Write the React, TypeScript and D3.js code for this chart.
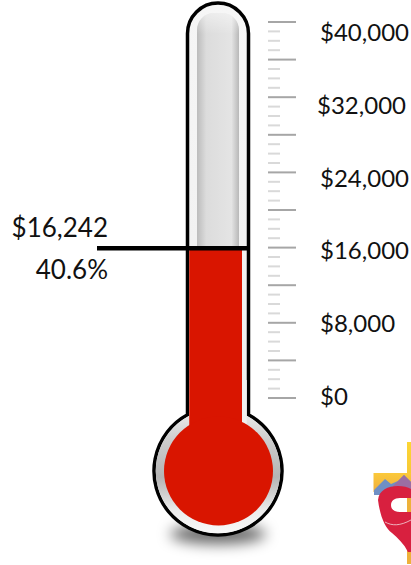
import { useMemo } from 'react'
import { scaleLinear, range, path as d3path } from 'd3'

const axisTicks = range(0, 40001, 1000)
const labelValues = [0, 8000, 16000, 24000, 32000, 40000]
const labelShift = [0, 0, 0, 0, -3, 0]
const raised = 16242
const percent = '40.6%'
const raisedText = '$16,242'

const font = 'Lato, Carlito, sans-serif'
const red = '#d91500'

const Logo = () => (
  <g>
    <rect x={407} y={442} width={6} height={122} fill="url(#cross)" />
    <rect x={373.5} y={473} width={38} height={19} fill="url(#arm)" />
    <path d="M374 490 L385 479 L391 484 L398 481 L404 475 L411 482 L411 495 L374 495 Z" fill="#6f8fc4" />
    <path d="M393 486 L398 481 L404 475 L411 482 L411 495 L393 495 Z" fill="#9b6ea3" />
    <path d="M378 500 C379 490 388 486 398 486 C403 486 408 487 411 489 L411 498 L400 498 C394 498 391 501 391 505 C391 510 395 512 400 512 L411 512 L411 556 L408 552 C404 544 398 538 392 533 C385 528 380 516 378 500 Z" fill="#d8203f" />
    <rect x={407} y={498} width={4} height={14} fill="#eeb13a" />
    <path d="M385 522 C392 526 400 526 411 520" fill="none" stroke="#f3d6dc" strokeWidth={0.8} />
    <rect x={407} y={552} width={4} height={12} fill="#eeb13a" />
  </g>
)

const App = () => {
  const y = scaleLinear().domain([0, 40000]).range([398, 22])
  const labelY = scaleLinear().domain([0, 40000]).range([396, 32])
  // the mercury sits a little under the printed scale in the picture
  const levelY = scaleLinear().domain([0, 40000]).range([401, 25])
  const level = levelY(raised)

  const tube = useMemo(() => {
    const p = d3path()
    const cx = 218, cy = 471, r = 64, hw = 30.5, top = 3, capR = 30.5
    const a = Math.asin(hw / r)
    p.moveTo(cx - hw, cy - r * Math.cos(a))
    p.lineTo(cx - hw, top + capR)
    p.arcTo(cx - hw, top, cx, top, capR)
    p.arcTo(cx + hw, top, cx + hw, top + capR, capR)
    p.lineTo(cx + hw, cy - r * Math.cos(a))
    p.arc(cx, cy, r, -Math.PI / 2 + a, -Math.PI / 2 - a + Math.PI * 2)
    p.closePath()
    return p.toString()
  }, [])

  const glass = useMemo(() => {
    const p = d3path()
    const x0 = 197, x1 = 239, top = 13, r = 17
    p.moveTo(x0, level)
    p.lineTo(x0, top + r)
    p.arcTo(x0, top, x0 + r, top, r)
    p.lineTo(x1 - r, top)
    p.arcTo(x1, top, x1, top + r, r)
    p.lineTo(x1, level)
    p.closePath()
    return p.toString()
  }, [level])

  return (
    <svg width={411} height={565} style={{ position: 'absolute', left: 0, top: 0 }}>
      <defs>
        <linearGradient id="glass" x1="0" x2="1" y1="0" y2="0">
          <stop offset="0" stopColor="#bcbcbc" />
          <stop offset="0.22" stopColor="#dcdcdc" />
          <stop offset="0.82" stopColor="#e4e4e4" />
          <stop offset="1" stopColor="#b8b8b8" />
        </linearGradient>
        <linearGradient id="glassTop" x1="0" x2="0" y1="0" y2="1">
          <stop offset="0" stopColor="#ffffff" stopOpacity="0.45" />
          <stop offset="0.09" stopColor="#ffffff" stopOpacity="0" />
        </linearGradient>
        <linearGradient id="ring" x1="0" x2="0" y1="0" y2="1">
          <stop offset="0" stopColor="#f0f0f0" />
          <stop offset="0.25" stopColor="#cdcdcd" />
          <stop offset="0.55" stopColor="#b4b4b4" />
          <stop offset="0.82" stopColor="#ececec" />
          <stop offset="1" stopColor="#f8f8f8" />
        </linearGradient>
        <linearGradient id="tubeFill" x1="0" x2="0" y1="0" y2="1">
          <stop offset="0" stopColor="#f6f6f6" />
          <stop offset="1" stopColor="#ededed" />
        </linearGradient>
        <linearGradient id="cross" x1="0" x2="0" y1="0" y2="1">
          <stop offset="0" stopColor="#fcd634" />
          <stop offset="1" stopColor="#e9a23b" />
        </linearGradient>
        <linearGradient id="arm" x1="0" x2="0" y1="0" y2="1">
          <stop offset="0" stopColor="#fbc93a" />
          <stop offset="1" stopColor="#efae3e" />
        </linearGradient>
        <filter id="blur" x="-40%" y="-150%" width="180%" height="400%">
          <feGaussianBlur stdDeviation="7" />
        </filter>
      </defs>

      {/* shadow under bulb */}
      <ellipse cx={218} cy={534} rx={48} ry={10} fill="#000" fillOpacity={0.6} filter="url(#blur)" />

      {/* body */}
      <path d={tube} fill="url(#tubeFill)" stroke="#000" strokeWidth={3.5} />
      <circle cx={218} cy={471} r={62.2} fill="url(#ring)" />
      <rect x={189.25} y={380} width={57.5} height={44} fill="#f0f0f0" />

      {/* glass */}
      <path d={glass} fill="url(#glass)" />
      <path d={glass} fill="url(#glassTop)" />

      {/* mercury */}
      <rect x={189.25} y={level} width={52.75} height={440 - level} fill={red} />
      <circle cx={218.5} cy={471} r={54.5} fill={red} />

      {/* level line */}
      <line x1={97} x2={249} y1={level} y2={level} stroke="#000" strokeWidth={4.5} />
      <text x={108} y={level - 11} textAnchor="end" fontFamily={font} fontSize={26} fill="#111">{raisedText}</text>
      <text x={108} y={level + 31} textAnchor="end" fontFamily={font} fontSize={26} fill="#111">{percent}</text>

      {/* scale */}
      {axisTicks.filter(t => t % 4000 === 0).map(t => (
        <line key={t} x1={268} x2={296} y1={y(t)} y2={y(t)} stroke="#a6a6a6" strokeWidth={2} />
      ))}
      {axisTicks.filter(t => t % 4000 !== 0).map(t => (
        <line key={t} x1={268} x2={280} y1={y(t)} y2={y(t)} stroke="#d9d9d9" strokeWidth={2} />
      ))}
      {labelValues.map((v, i) => (
        <text key={v} x={320 + labelShift[i]} y={labelY(v) + 9} fontFamily={font} fontSize={24} fill="#111">
          {'$' + v.toLocaleString('en-US')}
        </text>
      ))}

      <Logo />
    </svg>
  )
}

export default App
